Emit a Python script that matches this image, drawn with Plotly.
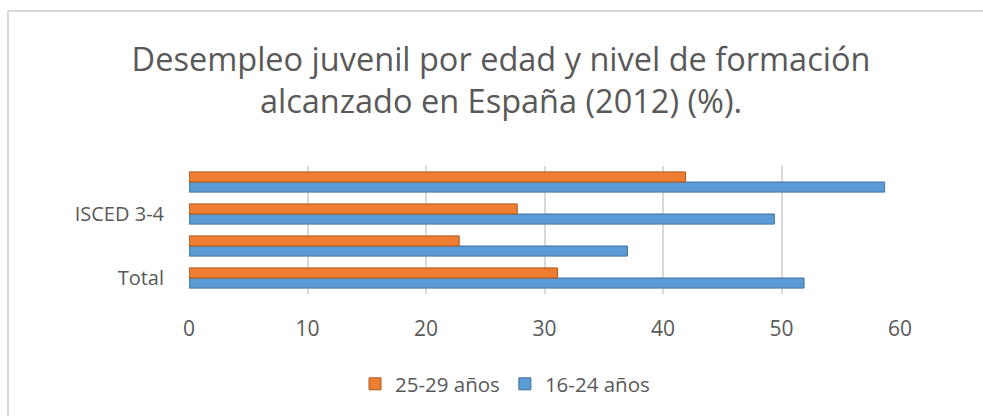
import plotly.graph_objects as go

categories = ["Total", "ISCED 5-6", "ISCED 3-4", "ISCED 0-2"]
shown_labels = ["Total", "ISCED 3-4"]
youth_16_24 = [51.9, 37.0, 49.4, 58.7]
youth_25_29 = [31.1, 22.8, 27.7, 41.9]
x_ticks = [0, 10, 20, 30, 40, 50, 60]

title_text = "Desempleo juvenil por edad y nivel de formación<br>alcanzado en España (2012) (%)."

W, H = 983, 416
L, R, T, B = 189, 83, 166, 122
pw, ph = W - L - R, H - T - B

def px_to_paper_x(px):
    return (px - L) / pw

def px_to_paper_y(py):
    return (H - B - py) / ph

fig = go.Figure()
fig.add_trace(go.Bar(
    y=categories, x=youth_16_24, orientation="h", name="16-24 años",
    marker=dict(color="#5b9bd5", line=dict(color="#41719c", width=1)),
))
fig.add_trace(go.Bar(
    y=categories, x=youth_25_29, orientation="h", name="25-29 años",
    marker=dict(color="#ed7d31", line=dict(color="#ae5a21", width=1)),
))

font_family = "Open Sans, Liberation Sans, sans-serif"
gray = "#595959"

border = "#d9d9d9"
x0, x1 = px_to_paper_x(8), px_to_paper_x(990)
y0, y1 = px_to_paper_y(420), px_to_paper_y(11)
shapes = [
    dict(type="line", xref="paper", yref="paper", x0=x0, x1=x1, y0=y1, y1=y1,
         line=dict(color=border, width=2), layer="below"),
    dict(type="line", xref="paper", yref="paper", x0=x0, x1=x0, y0=y0, y1=y1,
         line=dict(color=border, width=2), layer="below"),
]

fig.update_layout(
    width=W, height=H,
    margin=dict(l=L, r=R, t=T, b=B),
    paper_bgcolor="white", plot_bgcolor="white",
    barmode="group", bargap=0.37, bargroupgap=0,
    title=dict(text=title_text, x=501 / W, xanchor="center", y=1 - 71 / H, yanchor="middle",
               font=dict(family=font_family, size=32.5, color=gray)),
    font=dict(family=font_family, color=gray),
    showlegend=True,
    legend=dict(orientation="h", traceorder="reversed", x=px_to_paper_x(505), xanchor="center",
                y=px_to_paper_y(384), yanchor="middle", font=dict(size=20.5, color=gray),
                itemwidth=30),
    xaxis=dict(range=[0, 60], tickvals=x_ticks, showgrid=True, gridcolor="#d9d9d9", gridwidth=1.5,
               zeroline=False, showline=False, ticks="", ticklabelstandoff=20,
               tickfont=dict(size=21, color=gray)),
    yaxis=dict(categoryorder="array", categoryarray=categories, tickvals=shown_labels,
               showgrid=False, zeroline=False, showline=False, ticks="",
               ticklabelstandoff=24, tickfont=dict(size=20, color=gray)),
    shapes=shapes,
)

fig.write_html("out.html")
